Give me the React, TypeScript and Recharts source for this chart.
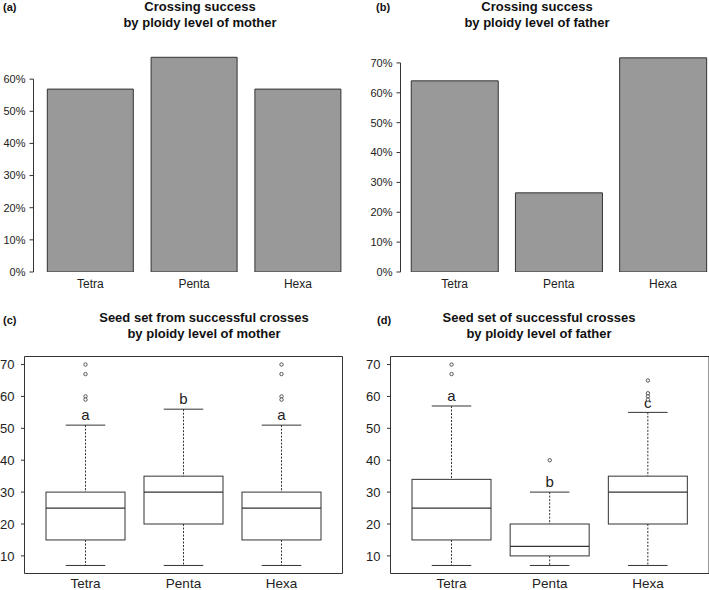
import React from 'react';
import { ComposedChart, Bar, XAxis, YAxis, ReferenceLine, ReferenceDot } from 'recharts';

// ---------- data ----------
const categories = ['Tetra', 'Penta', 'Hexa'];

const successMother = [0.569, 0.668, 0.569];
const successFather = [0.64, 0.265, 0.717];
const pctTicksMother = [0, 0.1, 0.2, 0.3, 0.4, 0.5, 0.6];
const pctTicksFather = [0, 0.1, 0.2, 0.3, 0.4, 0.5, 0.6, 0.7];

const seedTicks = [10, 20, 30, 40, 50, 60, 70];
const seedDomain: [number, number] = [4.48, 72.52];

const motherLow = [7, 7, 7];
const motherQ1 = [15, 20, 15];
const motherMed = [25, 30, 25];
const motherQ3 = [30, 35, 30];
const motherHigh = [51, 56, 51];
const motherOutliers = [[70, 67, 60, 59], [], [70, 67, 60, 59]];
const motherLetters = ['a', 'b', 'a'];

const fatherLow = [7, 7, 7];
const fatherQ1 = [15, 10, 20];
const fatherMed = [25, 13, 30];
const fatherQ3 = [34, 20, 35];
const fatherHigh = [57, 30, 55];
const fatherOutliers = [[70, 67], [40], [65, 61, 60, 59]];
const fatherLetters = ['a', 'b', 'c'];

const FONT = '"Liberation Sans", Arial, Helvetica, sans-serif';
const INK = '#222';
const LINE = '#333';

// ---------- bar panel ----------
type BarPanelProps = {
  values: number[];
  ticks: number[];
  domainMax: number;
  width: number;
  marginTop: number;
  marginRight: number;
  yAxisWidth: number;
  padLeft: number;
  gap: number;
};

function BarPanel(p: BarPanelProps) {
  const rows = categories.map((c, i) => ({ cat: c, value: p.values[i] }));
  const topTick = p.ticks[p.ticks.length - 1];
  return (
    <ComposedChart
      width={p.width}
      height={290}
      data={rows}
      margin={{ top: p.marginTop, right: p.marginRight, bottom: 0, left: 0.5 }}
      barCategoryGap={p.gap}
    >
      <XAxis
        xAxisId="cat"
        dataKey="cat"
        axisLine={false}
        tickLine={false}
        tickSize={0}
        tickMargin={7}
        height={18}
        interval={0}
        padding={{ left: p.padLeft, right: 0 }}
        tick={{ fontSize: 12, fill: INK }}
      />
      <XAxis xAxisId="num" type="number" domain={[0, 1]} allowDataOverflow hide />
      <YAxis
        type="number"
        domain={[0, p.domainMax]}
        allowDataOverflow
        ticks={p.ticks}
        interval={0}
        width={p.yAxisWidth}
        axisLine={false}
        tickLine={{ stroke: LINE }}
        stroke={LINE}
        tickSize={4}
        tickMargin={4}
        tick={{ fontSize: 11, fill: INK }}
        tickFormatter={(v: number) => `${Math.round(v * 100)}%`}
      />
      <ReferenceLine
        xAxisId="num"
        segment={[{ x: 0, y: 0 }, { x: 0, y: topTick }]}
        stroke={LINE}
        strokeWidth={1}
      />
      <Bar
        xAxisId="cat"
        dataKey="value"
        fill="#999999"
        stroke={LINE}
        strokeWidth={1}
        isAnimationActive={false}
      />
    </ComposedChart>
  );
}

// ---------- box panel ----------
const BoxShape = (props: any) => {
  const { x, y, width, height, payload } = props;
  const top = Math.min(y, y + height);
  const bottom = Math.max(y, y + height);
  const { low, high, q1, med, q3, letter } = payload;
  const px = (v: number) => bottom - ((v - low) / (high - low)) * (bottom - top);
  const cx = x + width / 2;
  const cap = width / 4;
  return (
    <g>
      <line x1={cx} x2={cx} y1={px(high)} y2={px(q3)} stroke={LINE} strokeDasharray="2 1.5" />
      <line x1={cx} x2={cx} y1={px(q1)} y2={px(low)} stroke={LINE} strokeDasharray="2 1.5" />
      <line x1={cx - cap} x2={cx + cap} y1={px(high)} y2={px(high)} stroke={LINE} />
      <line x1={cx - cap} x2={cx + cap} y1={px(low)} y2={px(low)} stroke={LINE} />
      <rect x={x} y={px(q3)} width={width} height={px(q1) - px(q3)} fill="#fff" stroke={LINE} />
      <line x1={x} x2={x + width} y1={px(med)} y2={px(med)} stroke={LINE} strokeWidth={1.2} />
      <text x={cx} y={px(high) - 4.8} textAnchor="middle" fontSize={15} fill={INK}>
        {letter}
      </text>
    </g>
  );
};

type BoxPanelProps = {
  low: number[];
  q1: number[];
  med: number[];
  q3: number[];
  high: number[];
  outliers: number[][];
  letters: string[];
  width: number;
  yAxisWidth: number;
  marginRight: number;
};

function BoxPanel(p: BoxPanelProps) {
  const rows = categories.map((c, i) => ({
    cat: c,
    low: p.low[i],
    q1: p.q1[i],
    med: p.med[i],
    q3: p.q3[i],
    high: p.high[i],
    letter: p.letters[i],
  }));
  const dots: { cat: string; v: number }[] = [];
  categories.forEach((c, i) => p.outliers[i].forEach((v) => dots.push({ cat: c, v })));
  return (
    <ComposedChart
      width={p.width}
      height={300}
      data={rows}
      margin={{ top: 65.5, right: p.marginRight - 1, bottom: 0, left: 0.5 }}
      barCategoryGap={9.5}
    >
      <XAxis
        xAxisId="cat"
        dataKey="cat"
        axisLine={{ stroke: LINE }}
        tickLine={false}
        tickSize={0}
        tickMargin={5}
        height={16.5}
        interval={0}
        padding={{ left: 12, right: 12 }}
        tick={{ fontSize: 13.5, fill: INK }}
      />
      <XAxis
        xAxisId="top"
        dataKey="cat"
        orientation="top"
        height={1}
        tick={false}
        tickLine={false}
        axisLine={{ stroke: LINE }}
      />
      <YAxis
        type="number"
        domain={seedDomain}
        allowDataOverflow
        ticks={seedTicks}
        interval={0}
        width={p.yAxisWidth}
        axisLine={{ stroke: LINE }}
        tickLine={{ stroke: LINE }}
        stroke={LINE}
        tickSize={3.5}
        tickMargin={6.5}
        tick={{ fontSize: 13, fill: INK }}
      />
      <YAxis
        yAxisId="right"
        orientation="right"
        type="number"
        domain={seedDomain}
        allowDataOverflow
        width={1}
        tick={false}
        tickLine={false}
        axisLine={{ stroke: LINE }}
      />
      <Bar
        xAxisId="cat"
        dataKey={(d: any) => [d.low, d.high]}
        shape={BoxShape}
        isAnimationActive={false}
      />
      {dots.map((d, i) => (
        <ReferenceDot
          key={i}
          xAxisId="cat"
          x={d.cat}
          y={d.v}
          r={1.7}
          fill="#fff"
          stroke="#444"
          strokeWidth={0.9}
        />
      ))}
    </ComposedChart>
  );
}

// ---------- titles ----------
function Title({ cx, top, lines }: { cx: number; top: number; lines: string[] }) {
  return (
    <div
      style={{
        position: 'absolute',
        left: cx - 170,
        top,
        width: 340,
        textAlign: 'center',
        fontWeight: 'bold',
        fontSize: 13,
        lineHeight: '16px',
        color: '#111',
      }}
    >
      {lines.map((l, i) => (
        <div key={i}>{l}</div>
      ))}
    </div>
  );
}

function Tag({ x, y, text }: { x: number; y: number; text: string }) {
  return (
    <div style={{ position: 'absolute', left: x, top: y, fontWeight: 'bold', fontSize: 11, lineHeight: '14px', color: '#111' }}>
      {text}
    </div>
  );
}

export default function App() {
  return (
    <div
      style={{
        position: 'absolute',
        left: 0,
        top: 0,
        width: 709,
        height: 590,
        overflow: 'hidden',
        background: '#fff',
        fontFamily: FONT,
      }}
    >
      <div style={{ position: 'absolute', left: 0, top: 0 }}>
        <BarPanel
          values={successMother}
          ticks={pctTicksMother}
          domainMax={0.7}
          width={354}
          marginTop={47}
          marginRight={4.2}
          yAxisWidth={33}
          padLeft={4.9}
          gap={8.9}
        />
      </div>
      <div style={{ position: 'absolute', left: 354, top: 0 }}>
        <BarPanel
          values={successFather}
          ticks={pctTicksFather}
          domainMax={0.75}
          width={362}
          marginTop={48}
          marginRight={0.9}
          yAxisWidth={46}
          padLeft={2}
          gap={8.75}
        />
      </div>
      <div style={{ position: 'absolute', left: 0, top: 290 }}>
        <BoxPanel
          low={motherLow}
          q1={motherQ1}
          med={motherMed}
          q3={motherQ3}
          high={motherHigh}
          outliers={motherOutliers}
          letters={motherLetters}
          width={354}
          yAxisWidth={24}
          marginRight={11.5}
        />
      </div>
      <div style={{ position: 'absolute', left: 354, top: 290 }}>
        <BoxPanel
          low={fatherLow}
          q1={fatherQ1}
          med={fatherMed}
          q3={fatherQ3}
          high={fatherHigh}
          outliers={fatherOutliers}
          letters={fatherLetters}
          width={356}
          yAxisWidth={36}
          marginRight={1}
        />
      </div>

      <Title cx={200} top={-1} lines={['Crossing success', 'by ploidy level of mother']} />
      <Title cx={537} top={-1} lines={['Crossing success', 'by ploidy level of father']} />
      <Title cx={204} top={310} lines={['Seed set from successful crosses', 'by ploidy level of mother']} />
      <Title cx={539} top={310} lines={['Seed set of successful crosses', 'by ploidy level of father']} />

      <Tag x={3} y={0} text="(a)" />
      <Tag x={376} y={0} text="(b)" />
      <Tag x={3} y={313} text="(c)" />
      <Tag x={377} y={313} text="(d)" />
    </div>
  );
}
